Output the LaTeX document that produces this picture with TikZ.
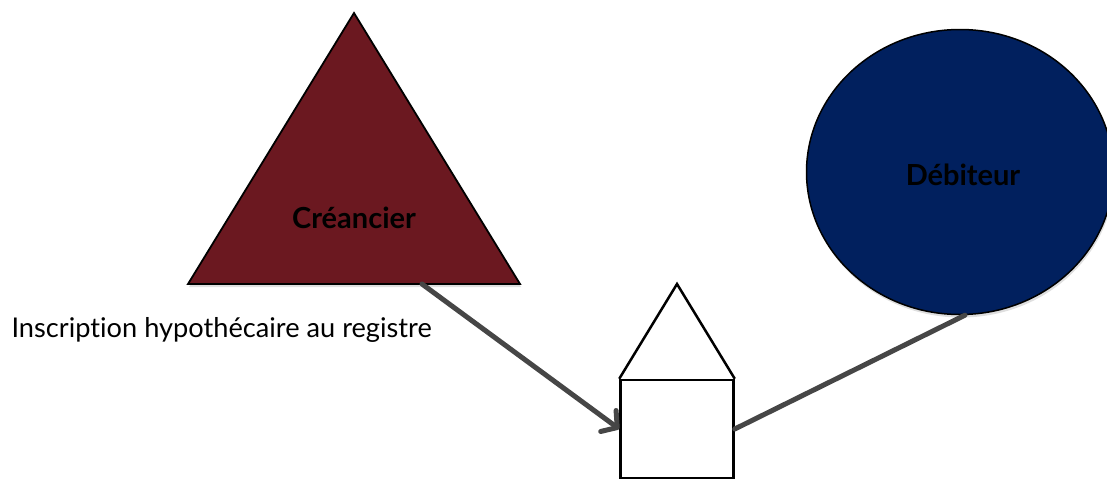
\documentclass[tikz,border=0pt]{standalone}
\usepackage{fontspec}
\setmainfont{Lato}[RawFeature={-liga;-clig;-dlig;-calt}]
\usetikzlibrary{shapes.geometric, arrows.meta, shadows}

\definecolor{bordeaux}{RGB}{107,24,32}
\definecolor{marine}{RGB}{1,32,94}
\definecolor{lien}{RGB}{70,70,70}

\tikzset{
	etiquette/.style={font=\bfseries\fontsize{29}{34}\selectfont, text=black},
	lienfleche/.style={draw=lien, line width=5pt, line cap=round,
		-{Straight Barb[length=11pt, width=26pt, round]}},
	lienplein/.style={draw=lien, line width=5pt, line cap=round},
	ombre/.style={drop shadow={shadow xshift=1pt, shadow yshift=-3pt, opacity=0.25}}
}

\begin{document}
\begin{tikzpicture}[x=1pt, y=-1pt]
	\useasboundingbox (0,0) rectangle (1107,479);
	
	% creancier
	\coordinate (cre-haut) at (354,13);
	\coordinate (cre-g) at (188,284);
	\coordinate (cre-d) at (520,284);
	\coordinate (cre-pied) at (422,284);
	\filldraw[fill=bordeaux, draw=black, line width=1.8pt, line join=miter, ombre]
		(cre-haut) -- (cre-g) -- (cre-d) -- cycle;
	\node[etiquette] (cre) at (354,218) {Créancier};
	
	% debiteur
	\node[ellipse, draw=black, line width=1.5pt, fill=marine, ombre,
		minimum width=307pt, minimum height=285pt, inner sep=0pt] (deb) at (960,172) {};
	\node[etiquette] (debtxt) at (963,175) {Débiteur};
	
	% maison
	\node[rectangle, draw=black, line width=2.5pt, fill=white,
		minimum width=113pt, minimum height=98pt, inner sep=0pt] (maison) at (677,429) {};
	\coordinate (toit) at (677,284);
	\draw[line width=2.5pt, line join=miter] (maison.north west) -- (toit) -- (maison.north east);
	
	\node[anchor=west, font=\fontsize{27.2}{32}\selectfont] (inscr) at (8,330) {Inscription hypothécaire au registre};
	
	\draw[lienfleche] (cre-pied) -- (maison.west);
	\draw[lienplein] (maison.east) -- (deb.-88);
\end{tikzpicture}
\end{document}
